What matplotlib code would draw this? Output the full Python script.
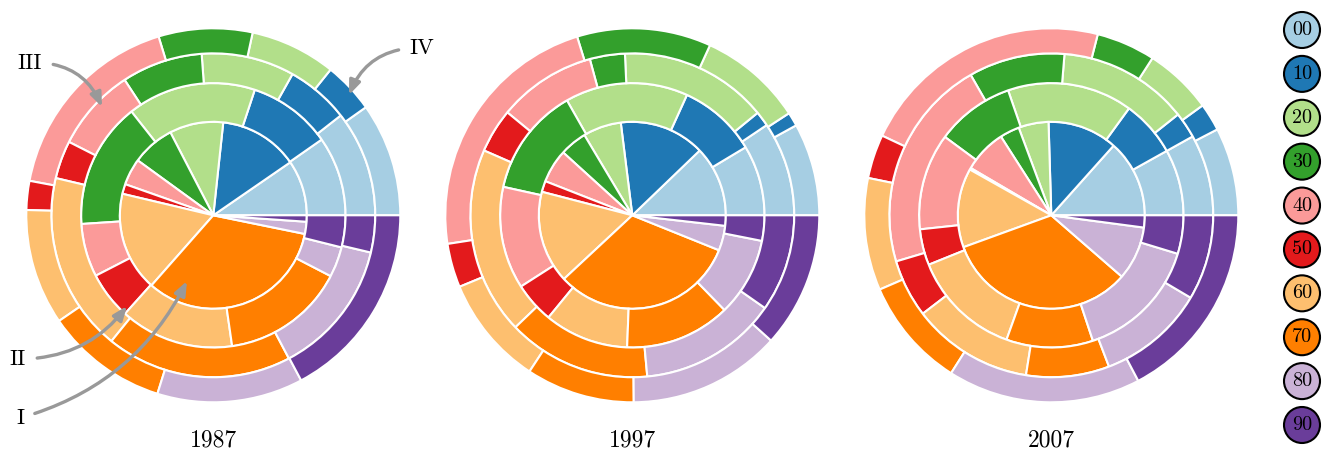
# Nested pie charts: share per decade, four rings per year, with a colour key

import matplotlib.pyplot as plt
from matplotlib.patches import Circle
import numpy as np

plt.rcParams['font.family'] = 'serif'
plt.rcParams['font.serif'] = ['cmr10']

years = ['1987', '1997', '2007']
decades = ['00', '10', '20', '30', '40', '50', '60', '70', '80', '90']
colors = plt.cm.Paired.colors[:10]

# shares in % per decade, rings listed from the centre outwards
rings_1987 = [
    [9.6, 13.7, 9.3, 7.4, 4.6, 1.7, 17.2, 33.3, 2.1, 1.1],
    [9.7, 10.2, 15.7, 15.4, 6.5, 5.8, 13.9, 15.1, 3.7, 3.9],
    [10.6, 6.3, 9.3, 8.1, 8.3, 3.8, 17.9, 18.6, 13.6, 3.7],
    [9.8, 4.4, 7.4, 8.1, 17.3, 2.5, 10.0, 10.6, 12.6, 17.2],
]
rings_1997 = [
    [12.2, 14.8, 6.6, 4.7, 5.8, 1.9, 16.0, 32.0, 4.3, 1.8],
    [8.6, 9.6, 15.0, 13.3, 12.5, 5.0, 10.3, 12.9, 9.6, 3.1],
    [9.4, 1.5, 14.8, 3.5, 9.8, 4.4, 18.7, 14.3, 13.8, 9.7],
    [8.0, 1.2, 9.0, 11.6, 22.7, 3.8, 9.5, 9.4, 13.2, 11.7],
]
rings_2007 = [
    [13.4, 12.1, 5.2, 3.4, 7.5, 0.3, 13.7, 33.1, 9.3, 2.1],
    [8.1, 6.9, 15.3, 9.6, 11.8, 4.4, 13.4, 10.6, 15.2, 4.7],
    [8.1, 2.6, 13.0, 9.6, 21.3, 5.8, 12.1, 8.3, 10.7, 8.5],
    [7.6, 2.4, 5.9, 5.1, 22.0, 3.8, 9.7, 9.5, 16.7, 17.3],
]

# layout in pixels
W, H = 1325, 455
centers_x = [213.3, 632.3, 1051.3]
center_y = H - 215.3
r_out = 187
radii = [r_out * np.sqrt(k / 4) for k in range(1, 5)]

fig = plt.figure(figsize=(W / 100, H / 100), dpi=100)
ax = fig.add_axes([0, 0, 1, 1])

for cx, year, rings in zip(centers_x, years, [rings_1987, rings_1997, rings_2007]):
    inner = 0
    for r, shares in zip(radii, rings):
        ax.pie(shares, colors=colors, radius=r, center=(cx, center_y), startangle=0,
               counterclock=True, normalize=True,
               wedgeprops=dict(width=r - inner, edgecolor='white', linewidth=1.5))
        inner = r
    ax.text(cx, H - 440, year, ha='center', va='center', fontsize=17)

# colour key
key_x = 1302
key_ys = np.linspace(H - 30, H - 425, len(decades))
for dec, col, ky in zip(decades, colors, key_ys):
    ax.add_patch(Circle((key_x, ky), 18, facecolor=col, edgecolor='black', linewidth=1.5))
    ax.text(key_x, ky, dec, ha='center', va='center', fontsize=14.5)

# annotations on the first chart
arrow = dict(arrowstyle='-|>,head_length=0.7,head_width=0.28', color='#999999', lw=2.4,
             mutation_scale=12, shrinkA=6, shrinkB=0)
ax.annotate('III', xy=(102, H - 107), xytext=(30, H - 63), fontsize=16, ha='center', va='center',
            arrowprops=dict(arrow, connectionstyle='arc3,rad=-0.35'))
ax.annotate('IV', xy=(349, H - 95), xytext=(422, H - 48), fontsize=16, ha='center', va='center',
            arrowprops=dict(arrow, connectionstyle='arc3,rad=0.35'))
ax.annotate('II', xy=(127, H - 306), xytext=(18, H - 359), fontsize=16, ha='center', va='center',
            arrowprops=dict(arrow, connectionstyle='arc3,rad=0.25'))
ax.annotate('I', xy=(187, H - 281), xytext=(20, H - 418), fontsize=16, ha='center', va='center',
            arrowprops=dict(arrow, connectionstyle='arc3,rad=0.22'))

ax.set_xlim(0, W)
ax.set_ylim(0, H)
ax.set_aspect('equal')
ax.axis('off')

fig.savefig('out.png', dpi=100)
